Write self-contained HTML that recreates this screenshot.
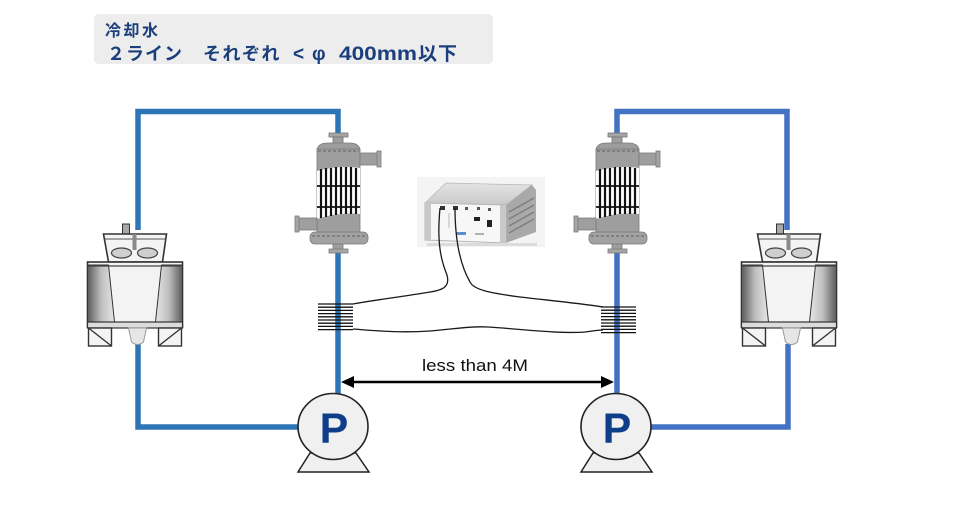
<!DOCTYPE html>
<html>
<head>
<meta charset="utf-8">
<style>
  html,body{margin:0;padding:0;background:#fff;}
  svg{display:block;}
  .hdr{font-family:"Liberation Sans","Noto Sans CJK JP",sans-serif;font-weight:bold;fill:#1b3f7d;}
</style>
</head>
<body>
<svg width="969" height="514" viewBox="0 0 969 514" xmlns="http://www.w3.org/2000/svg">
  <defs>
    <linearGradient id="lp" x1="0" x2="1" y1="0" y2="0">
      <stop offset="0" stop-color="#5a5a5a"/>
      <stop offset="0.5" stop-color="#bdbdbd"/>
      <stop offset="1" stop-color="#e6e6e6"/>
    </linearGradient>
    <linearGradient id="rp" x1="0" x2="1" y1="0" y2="0">
      <stop offset="0" stop-color="#e6e6e6"/>
      <stop offset="0.5" stop-color="#bdbdbd"/>
      <stop offset="1" stop-color="#5a5a5a"/>
    </linearGradient>
    <linearGradient id="devtop" x1="0" x2="0" y1="0" y2="1">
      <stop offset="0" stop-color="#e4e4e4"/>
      <stop offset="1" stop-color="#c9c9c9"/>
    </linearGradient>

    <g id="tower">
      <rect x="-12" y="224" width="7" height="10" fill="#a8a8a8" stroke="#333" stroke-width="1"/>
      <polygon points="-31,234 32,234 28,262 -26,262" fill="#f4f4f4" stroke="#333" stroke-width="1.6"/>
      <line x1="-30" y1="239" x2="31" y2="239" stroke="#555" stroke-width="1"/>
      <rect x="-2" y="234" width="4" height="16" fill="#8a8a8a"/>
      <ellipse cx="-13" cy="253" rx="10" ry="5" fill="#cfcfcf" stroke="#444" stroke-width="1.2"/>
      <ellipse cx="13" cy="253" rx="10" ry="5" fill="#cfcfcf" stroke="#444" stroke-width="1.2"/>
      <rect x="-47" y="262" width="95" height="65" fill="#f3f3f3" stroke="#333" stroke-width="1.6"/>
      <polygon points="-47,265 -26,265 -20,322 -47,322" fill="url(#lp)" stroke="#333" stroke-width="1"/>
      <polygon points="27,265 48,265 48,322 21,322" fill="url(#rp)" stroke="#333" stroke-width="1"/>
      <line x1="-47" y1="266" x2="48" y2="266" stroke="#444" stroke-width="1.2"/>
      <rect x="-47" y="322" width="95" height="6" fill="#dcdcdc" stroke="#333" stroke-width="1.2"/>
      <rect x="-46" y="328" width="23" height="18" fill="#f4f4f4" stroke="#333" stroke-width="1.4"/>
      <line x1="-46" y1="328" x2="-23" y2="346" stroke="#333" stroke-width="1.4"/>
      <rect x="24" y="328" width="23" height="18" fill="#f4f4f4" stroke="#333" stroke-width="1.4"/>
      <line x1="47" y1="328" x2="24" y2="346" stroke="#333" stroke-width="1.4"/>
      <path d="M-6,328 L12,328 L9,342 Q3,347 -3,342 Z" fill="#e6e6e6" stroke="#999" stroke-width="1"/>
    </g>

    <g id="hx">
      <rect x="-9" y="133" width="19" height="4" fill="#a5a5a5" stroke="#777" stroke-width="0.8"/>
      <rect x="-5" y="137" width="10" height="7" fill="#9e9e9e" stroke="#777" stroke-width="0.8"/>
      <path d="M-21,151 Q-21,143 -10,143 L11,143 Q22,143 22,151 Z" fill="#9e9e9e" stroke="#7a7a7a" stroke-width="0.8"/>
      <rect x="-21" y="149" width="43" height="85" fill="#9e9e9e" stroke="#7a7a7a" stroke-width="0.8"/>
      <line x1="-20" y1="151" x2="21" y2="151" stroke="#5e5e5e" stroke-width="1" stroke-dasharray="3,2"/>
      <rect x="22" y="153" width="18" height="12" fill="#9e9e9e" stroke="#7a7a7a" stroke-width="0.8"/>
      <rect x="39" y="151" width="4" height="16" fill="#a5a5a5" stroke="#7a7a7a" stroke-width="0.8"/>
      <path d="M-21,171 Q0,165 22,168 L22,214 Q0,212 -21,219 Z" fill="#ffffff"/>
      <g stroke="#111" stroke-width="2.2">
        <line x1="-17" y1="169" x2="-17" y2="218"/>
        <line x1="-12" y1="168" x2="-12" y2="217"/>
        <line x1="-7" y1="168" x2="-7" y2="216"/>
        <line x1="-2" y1="167" x2="-2" y2="215"/>
        <line x1="3" y1="167" x2="3" y2="214"/>
        <line x1="8" y1="167" x2="8" y2="214"/>
        <line x1="13" y1="167" x2="13" y2="214"/>
        <line x1="18" y1="168" x2="18" y2="214"/>
      </g>
      <line x1="-21" y1="186" x2="22" y2="186" stroke="#111" stroke-width="1.8"/>
      <line x1="-21" y1="207" x2="22" y2="207" stroke="#111" stroke-width="1.8"/>
      <rect x="-40" y="218" width="19" height="12" fill="#9e9e9e" stroke="#7a7a7a" stroke-width="0.8"/>
      <rect x="-43" y="216" width="4" height="16" fill="#a5a5a5" stroke="#7a7a7a" stroke-width="0.8"/>
      <rect x="-28" y="232" width="58" height="12" rx="5" fill="#a2a2a2" stroke="#7a7a7a" stroke-width="0.8"/>
      <line x1="-26" y1="236" x2="28" y2="236" stroke="#5e5e5e" stroke-width="1" stroke-dasharray="3,2"/>
      <rect x="-5" y="244" width="10" height="6" fill="#9e9e9e" stroke="#7a7a7a" stroke-width="0.8"/>
      <rect x="-9" y="249" width="19" height="4" fill="#a5a5a5" stroke="#7a7a7a" stroke-width="0.8"/>
    </g>

    <g id="coil" stroke="#111" stroke-width="1.3">
      <line x1="0" y1="0" x2="35" y2="0"/>
      <line x1="0" y1="3.2" x2="35" y2="3.2"/>
      <line x1="0" y1="6.4" x2="35" y2="6.4"/>
      <line x1="0" y1="9.6" x2="35" y2="9.6"/>
      <line x1="0" y1="12.8" x2="35" y2="12.8"/>
      <line x1="0" y1="16" x2="35" y2="16"/>
      <line x1="0" y1="19.2" x2="35" y2="19.2"/>
      <line x1="0" y1="22.4" x2="35" y2="22.4"/>
      <line x1="0" y1="25.6" x2="35" y2="25.6"/>
    </g>

    <g id="pump">
      <polygon points="-23,453 23,453 36,472 -35,472" fill="#f0f0f0" stroke="#222" stroke-width="1.5"/>
      <ellipse cx="0" cy="426.5" rx="35" ry="33" fill="#f0f0f0" stroke="#222" stroke-width="1.6"/>
      <text x="1" y="443" text-anchor="middle" font-family="Liberation Sans, sans-serif" font-weight="bold" font-size="43" fill="#0e3d8a">P</text>
    </g>
  </defs>

  <!-- header -->
  <rect x="94" y="14" width="399" height="50" rx="5" fill="#ededed"/>
  <text class="hdr" x="105" y="36" font-size="16" letter-spacing="2.5">冷却水</text>
  <text class="hdr" x="107" y="60" font-size="18" letter-spacing="1">２ライン</text>
  <text class="hdr" x="203" y="60" font-size="18" letter-spacing="1.5">それぞれ</text>
  <text class="hdr" x="293" y="60" font-size="19">&lt;</text>
  <text class="hdr" x="312" y="60" font-size="19">φ</text>
  <text class="hdr" x="339" y="60" font-size="19" textLength="78" lengthAdjust="spacingAndGlyphs">400mm</text>
  <text class="hdr" x="418" y="60" font-size="19" letter-spacing="1">以下</text>

  <!-- left loop pipes -->
  <g fill="none" stroke="#2e75b6" stroke-width="5.5">
    <polyline points="138,230 138,111.5 338,111.5 338,140"/>
    <polyline points="338,248 338,395"/>
    <polyline points="138,344 138,427 300,427"/>
  </g>
  <!-- right loop pipes -->
  <g fill="none" stroke="#4472c4" stroke-width="5.5">
    <polyline points="617,140 617,111.5 787,111.5 787,230"/>
    <polyline points="617,248 617,395"/>
    <polyline points="650,427 788,427 788,344"/>
  </g>

  <!-- towers -->
  <use href="#tower" transform="translate(134.5,0)"/>
  <use href="#tower" transform="translate(788.5,0)"/>

  <!-- heat exchangers -->
  <use href="#hx" transform="translate(338,0)"/>
  <use href="#hx" transform="translate(617,0)"/>

  <!-- device -->
  <rect x="417" y="177" width="128" height="70" fill="#f4f4f4"/>
  <polygon points="425,203 446,183 532,185 506,205" fill="url(#devtop)" stroke="#b8b8b8" stroke-width="0.8"/>
  <polygon points="506,205 532,185 536,190 536,232 506,243" fill="#a9a9a9"/>
  <g stroke="#7d7d7d" stroke-width="1.4">
    <line x1="509" y1="212" x2="534" y2="198"/>
    <line x1="509" y1="219" x2="534" y2="205"/>
    <line x1="509" y1="226" x2="534" y2="212"/>
    <line x1="509" y1="233" x2="534" y2="219"/>
  </g>
  <polygon points="425,203 506,205 506,243 425,240" fill="#f7f7f7" stroke="#b5b5b5" stroke-width="1"/>
  <rect x="425" y="203" width="6" height="37" fill="#c8c8c8"/>
  <rect x="500" y="205" width="6" height="38" fill="#c8c8c8"/>
  <rect x="440" y="206" width="5" height="4" fill="#333"/>
  <rect x="453" y="206" width="5" height="4" fill="#333"/>
  <rect x="465" y="207" width="3" height="3" fill="#555"/>
  <rect x="477" y="207" width="3" height="3" fill="#555"/>
  <rect x="488" y="208" width="3" height="3" fill="#555"/>
  <rect x="474" y="217" width="6" height="4" fill="#222"/>
  <rect x="487" y="220" width="5" height="7" fill="#222"/>
  <rect x="456" y="232" width="10" height="3" fill="#5b8fd0"/>
  <rect x="475" y="233" width="9" height="2" fill="#b0b0b0"/>
  <rect x="448" y="213" width="2" height="15" fill="#d8d8d8"/>
  <rect x="427" y="243" width="110" height="3" fill="#dcdcdc"/>

  <!-- cables -->
  <g fill="none" stroke="#1a1a1a" stroke-width="1.3">
    <path d="M440,208 C437,240 440,258 447,275 C450,286 444,290 430,292 C400,297 375,300 353,304"/>
    <path d="M455,208 C455,245 462,268 470,282 C474,290 490,293 520,297 C555,301 585,304 603,307"/>
    <path d="M353,329 C380,331 400,333 430,331 C455,329 470,326 488,327 C520,329 560,334 585,332 C593,331 598,330 603,330"/>
  </g>

  <!-- coils -->
  <use href="#coil" transform="translate(318,304)"/>
  <use href="#coil" transform="translate(601,307)"/>

  <!-- dimension arrow -->
  <line x1="350" y1="382" x2="605" y2="382" stroke="#000" stroke-width="2.5"/>
  <polygon points="341,382 354,376 354,388" fill="#000"/>
  <polygon points="614,382 601,376 601,388" fill="#000"/>
  <text x="475" y="371" text-anchor="middle" font-family="Liberation Sans, sans-serif" font-size="17" fill="#111" textLength="106" lengthAdjust="spacingAndGlyphs">less than 4M</text>

  <!-- pumps -->
  <use href="#pump" transform="translate(333,0)"/>
  <use href="#pump" transform="translate(616,0)"/>
</svg>
</body>
</html>
